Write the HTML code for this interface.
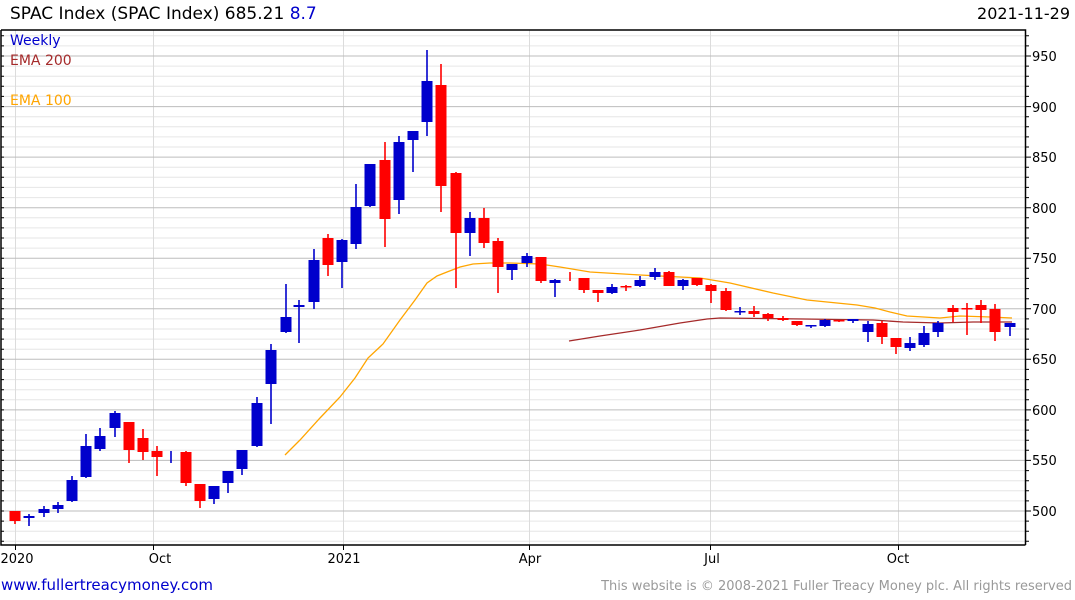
<!DOCTYPE html>
<html><head><meta charset="utf-8"><style>
html,body{margin:0;padding:0;background:#fff;width:1075px;height:600px;overflow:hidden}
svg{display:block;font-family:"DejaVu Sans","Liberation Sans",sans-serif}
</style></head><body>
<svg width="1075" height="600" viewBox="0 0 1075 600" xmlns="http://www.w3.org/2000/svg">
<rect width="1075" height="600" fill="#fff"/>
<!-- minor grid -->
<path stroke="#e6e6e6" stroke-width="1" fill="none" d="M2 541.3H1025M2 531.2H1025M2 521.1H1025M2 500.9H1025M2 490.8H1025M2 480.7H1025M2 470.6H1025M2 450.3H1025M2 440.2H1025M2 430.1H1025M2 420H1025M2 399.8H1025M2 389.7H1025M2 379.6H1025M2 369.4H1025M2 349.2H1025M2 339.1H1025M2 329H1025M2 318.9H1025M2 298.7H1025M2 288.6H1025M2 278.4H1025M2 268.3H1025M2 248.1H1025M2 238H1025M2 227.9H1025M2 217.8H1025M2 197.6H1025M2 187.4H1025M2 177.3H1025M2 167.2H1025M2 147H1025M2 136.9H1025M2 126.8H1025M2 116.7H1025M2 96.4H1025M2 86.3H1025M2 76.2H1025M2 66.1H1025M2 45.9H1025M2 35.8H1025"/>
<!-- vertical grid -->
<path stroke="#dcdcdc" stroke-width="1" fill="none" d="M15.5 30V545M153.5 30V545M343.5 30V545M529.5 30V545M710.5 30V545M898.5 30V545"/>
<!-- major grid -->
<path stroke="#bdbdbd" stroke-width="1" fill="none" d="M2 511H1025M2 460.4H1025M2 409.9H1025M2 359.3H1025M2 308.8H1025M2 258.2H1025M2 207.7H1025M2 157.1H1025M2 106.6H1025M2 56H1025"/>
<!-- axes -->
<path stroke="#000" stroke-width="1.5" fill="none" d="M1 30H1025.5V545M1 30V545H1025.5"/>
<path stroke="#000" stroke-width="1" fill="none" d="M1025 541.3h4M1025 531.2h4M1025 521.1h4M1025 511h6M1025 500.9h4M1025 490.8h4M1025 480.7h4M1025 470.6h4M1025 460.4h6M1025 450.3h4M1025 440.2h4M1025 430.1h4M1025 420h4M1025 409.9h6M1025 399.8h4M1025 389.7h4M1025 379.6h4M1025 369.4h4M1025 359.3h6M1025 349.2h4M1025 339.1h4M1025 329h4M1025 318.9h4M1025 308.8h6M1025 298.7h4M1025 288.6h4M1025 278.4h4M1025 268.3h4M1025 258.2h6M1025 248.1h4M1025 238h4M1025 227.9h4M1025 217.8h4M1025 207.7h6M1025 197.6h4M1025 187.4h4M1025 177.3h4M1025 167.2h4M1025 157.1h6M1025 147h4M1025 136.9h4M1025 126.8h4M1025 116.7h4M1025 106.6h6M1025 96.4h4M1025 86.3h4M1025 76.2h4M1025 66.1h4M1025 56h6M1025 45.9h4M1025 35.8h4M1 541.3h3M1 531.2h3M1 521.1h3M1 511h3M1 500.9h3M1 490.8h3M1 480.7h3M1 470.6h3M1 460.4h3M1 450.3h3M1 440.2h3M1 430.1h3M1 420h3M1 409.9h3M1 399.8h3M1 389.7h3M1 379.6h3M1 369.4h3M1 359.3h3M1 349.2h3M1 339.1h3M1 329h3M1 318.9h3M1 308.8h3M1 298.7h3M1 288.6h3M1 278.4h3M1 268.3h3M1 258.2h3M1 248.1h3M1 238h3M1 227.9h3M1 217.8h3M1 207.7h3M1 197.6h3M1 187.4h3M1 177.3h3M1 167.2h3M1 157.1h3M1 147h3M1 136.9h3M1 126.8h3M1 116.7h3M1 106.6h3M1 96.4h3M1 86.3h3M1 76.2h3M1 66.1h3M1 56h3M1 45.9h3M1 35.8h3M15.5 545v5M153.5 545v5M343.5 545v5M529.5 545v5M710.5 545v5M898.5 545v5"/>
<g font-size="13" fill="#000">
<text x="1032" y="516">500</text><text x="1032" y="465">550</text><text x="1032" y="415">600</text><text x="1032" y="364">650</text><text x="1032" y="314">700</text><text x="1032" y="263">750</text><text x="1032" y="213">800</text><text x="1032" y="162">850</text><text x="1032" y="112">900</text><text x="1032" y="61">950</text>
</g>
<g font-size="13" fill="#000" text-anchor="middle">
<text x="17" y="563">2020</text><text x="160" y="563">Oct</text><text x="344" y="563">2021</text><text x="530" y="563">Apr</text><text x="712" y="563">Jul</text><text x="898" y="563">Oct</text>
</g>
<!-- EMA lines -->
<polyline fill="none" stroke="#ffa500" stroke-width="1.3" points="285,455 300,440 320,418 340,397 355,378 368,358 383,344 400,320 415,300 427,283 437,276 447,272 460,267 473,264 490,263 510,263 540,264 560,267 590,272 640,275 700,278 730,283 773,293 807,300 857,305 875,308 890,312 907,316 940,318 960,316 990,317 1012,318"/>
<polyline fill="none" stroke="#a52a2a" stroke-width="1.3" points="569,341 600,336 640,330 680,323 707,319 720,318 803,319 873,320 903,322 940,323 973,322 1012,322"/>
<!-- candles -->
<g stroke-width="1.6">
<g fill="#ff0000" stroke="#ff0000">
<line x1="15" y1="511" x2="15" y2="524"/><rect x="9.5" y="511" width="11" height="10" stroke="none"/>
<line x1="129" y1="422" x2="129" y2="463"/><rect x="123.5" y="422" width="11" height="28" stroke="none"/>
<line x1="143" y1="429" x2="143" y2="460"/><rect x="137.5" y="438" width="11" height="14" stroke="none"/>
<line x1="157" y1="446" x2="157" y2="476"/><rect x="151.5" y="451" width="11" height="6" stroke="none"/>
<line x1="186" y1="451" x2="186" y2="486"/><rect x="180.5" y="452" width="11" height="31" stroke="none"/>
<line x1="200" y1="484" x2="200" y2="508"/><rect x="194.5" y="484" width="11" height="17" stroke="none"/>
<line x1="328" y1="234" x2="328" y2="276"/><rect x="322.5" y="238" width="11" height="27" stroke="none"/>
<line x1="385" y1="142" x2="385" y2="247"/><rect x="379.5" y="160" width="11" height="59" stroke="none"/>
<line x1="441" y1="64" x2="441" y2="212"/><rect x="435.5" y="85" width="11" height="101" stroke="none"/>
<line x1="456" y1="172" x2="456" y2="288"/><rect x="450.5" y="173" width="11" height="60" stroke="none"/>
<line x1="484" y1="208" x2="484" y2="248"/><rect x="478.5" y="218" width="11" height="25" stroke="none"/>
<line x1="498" y1="238" x2="498" y2="293"/><rect x="492.5" y="241" width="11" height="26" stroke="none"/>
<line x1="541" y1="257" x2="541" y2="283"/><rect x="535.5" y="257" width="11" height="24" stroke="none"/>
<line x1="570" y1="272" x2="570" y2="281"/>
<line x1="584" y1="278" x2="584" y2="293"/><rect x="578.5" y="278" width="11" height="12" stroke="none"/>
<line x1="598" y1="290" x2="598" y2="302"/><rect x="592.5" y="290" width="11" height="3" stroke="none"/>
<line x1="626" y1="285" x2="626" y2="291"/><rect x="620.5" y="286" width="11" height="1.5" stroke="none"/>
<line x1="669" y1="271" x2="669" y2="286"/><rect x="663.5" y="272" width="11" height="14" stroke="none"/>
<line x1="697" y1="278" x2="697" y2="286"/><rect x="691.5" y="278" width="11" height="7" stroke="none"/>
<line x1="711" y1="284" x2="711" y2="303"/><rect x="705.5" y="285" width="11" height="6" stroke="none"/>
<line x1="726" y1="288" x2="726" y2="311"/><rect x="720.5" y="291" width="11" height="19" stroke="none"/>
<line x1="754" y1="306" x2="754" y2="317"/><rect x="748.5" y="311" width="11" height="3" stroke="none"/>
<line x1="768" y1="313" x2="768" y2="321"/><rect x="762.5" y="314" width="11" height="4" stroke="none"/>
<line x1="783" y1="316" x2="783" y2="321"/><rect x="777.5" y="318" width="11" height="2" stroke="none"/>
<line x1="797" y1="321" x2="797" y2="326"/><rect x="791.5" y="321" width="11" height="4" stroke="none"/>
<line x1="839" y1="320" x2="839" y2="322"/><rect x="833.5" y="320" width="11" height="1.5" stroke="none"/>
<line x1="882" y1="321" x2="882" y2="344"/><rect x="876.5" y="323" width="11" height="14" stroke="none"/>
<line x1="896" y1="338" x2="896" y2="354"/><rect x="890.5" y="338" width="11" height="9" stroke="none"/>
<line x1="953" y1="305" x2="953" y2="322"/><rect x="947.5" y="308" width="11" height="4" stroke="none"/>
<line x1="967" y1="303" x2="967" y2="335"/><rect x="961.5" y="308" width="11" height="1.5" stroke="none"/>
<line x1="981" y1="300" x2="981" y2="323"/><rect x="975.5" y="305" width="11" height="5" stroke="none"/>
<line x1="995" y1="304" x2="995" y2="341"/><rect x="989.5" y="309" width="11" height="23" stroke="none"/>
</g>
<g fill="#0000cc" stroke="#0000cc">
<line x1="29" y1="514" x2="29" y2="526"/><rect x="23.5" y="516" width="11" height="2" stroke="none"/>
<line x1="44" y1="506" x2="44" y2="517"/><rect x="38.5" y="509" width="11" height="4" stroke="none"/>
<line x1="58" y1="502" x2="58" y2="513"/><rect x="52.5" y="505" width="11" height="4" stroke="none"/>
<line x1="72" y1="476" x2="72" y2="502"/><rect x="66.5" y="480" width="11" height="21" stroke="none"/>
<line x1="86" y1="434" x2="86" y2="478"/><rect x="80.5" y="446" width="11" height="31" stroke="none"/>
<line x1="100" y1="428" x2="100" y2="451"/><rect x="94.5" y="436" width="11" height="13" stroke="none"/>
<line x1="115" y1="411" x2="115" y2="437"/><rect x="109.5" y="413" width="11" height="15" stroke="none"/>
<line x1="171" y1="451" x2="171" y2="463"/>
<line x1="214" y1="486" x2="214" y2="504"/><rect x="208.5" y="486" width="11" height="13" stroke="none"/>
<line x1="228" y1="471" x2="228" y2="493"/><rect x="222.5" y="471" width="11" height="12" stroke="none"/>
<line x1="242" y1="450" x2="242" y2="475"/><rect x="236.5" y="450" width="11" height="19" stroke="none"/>
<line x1="257" y1="397" x2="257" y2="447"/><rect x="251.5" y="403" width="11" height="43" stroke="none"/>
<line x1="271" y1="344" x2="271" y2="424"/><rect x="265.5" y="350" width="11" height="34" stroke="none"/>
<line x1="286" y1="284" x2="286" y2="333"/><rect x="280.5" y="317" width="11" height="15" stroke="none"/>
<line x1="299" y1="300" x2="299" y2="343"/><rect x="293.5" y="305" width="11" height="2" stroke="none"/>
<line x1="314" y1="249" x2="314" y2="309"/><rect x="308.5" y="260" width="11" height="42" stroke="none"/>
<line x1="342" y1="239" x2="342" y2="288"/><rect x="336.5" y="240" width="11" height="22" stroke="none"/>
<line x1="356" y1="184" x2="356" y2="249"/><rect x="350.5" y="207" width="11" height="37" stroke="none"/>
<line x1="370" y1="164" x2="370" y2="207"/><rect x="364.5" y="164" width="11" height="42" stroke="none"/>
<line x1="399" y1="136" x2="399" y2="214"/><rect x="393.5" y="142" width="11" height="58" stroke="none"/>
<line x1="413" y1="131" x2="413" y2="172"/><rect x="407.5" y="131" width="11" height="9" stroke="none"/>
<line x1="427" y1="50" x2="427" y2="136"/><rect x="421.5" y="81" width="11" height="41" stroke="none"/>
<line x1="470" y1="212" x2="470" y2="256"/><rect x="464.5" y="218" width="11" height="15" stroke="none"/>
<line x1="512" y1="264" x2="512" y2="280"/><rect x="506.5" y="264" width="11" height="6" stroke="none"/>
<line x1="527" y1="253" x2="527" y2="267"/><rect x="521.5" y="256" width="11" height="7" stroke="none"/>
<line x1="555" y1="279" x2="555" y2="297"/><rect x="549.5" y="280" width="11" height="3" stroke="none"/>
<line x1="612" y1="284" x2="612" y2="294"/><rect x="606.5" y="287" width="11" height="6" stroke="none"/>
<line x1="640" y1="276" x2="640" y2="287"/><rect x="634.5" y="280" width="11" height="6" stroke="none"/>
<line x1="655" y1="268" x2="655" y2="280"/><rect x="649.5" y="272" width="11" height="5" stroke="none"/>
<line x1="683" y1="279" x2="683" y2="290"/><rect x="677.5" y="280" width="11" height="6" stroke="none"/>
<line x1="740" y1="307" x2="740" y2="315"/><rect x="734.5" y="311" width="11" height="1.5" stroke="none"/>
<line x1="811" y1="325" x2="811" y2="328"/><rect x="805.5" y="325" width="11" height="1.5" stroke="none"/>
<line x1="825" y1="319" x2="825" y2="327"/><rect x="819.5" y="320" width="11" height="6" stroke="none"/>
<line x1="853" y1="319" x2="853" y2="323"/><rect x="847.5" y="319" width="11" height="2" stroke="none"/>
<line x1="868" y1="321" x2="868" y2="342"/><rect x="862.5" y="324" width="11" height="8" stroke="none"/>
<line x1="910" y1="337" x2="910" y2="351"/><rect x="904.5" y="343" width="11" height="5" stroke="none"/>
<line x1="924" y1="326" x2="924" y2="347"/><rect x="918.5" y="333" width="11" height="12" stroke="none"/>
<line x1="938" y1="321" x2="938" y2="337"/><rect x="932.5" y="323" width="11" height="9" stroke="none"/>
<line x1="1010" y1="323" x2="1010" y2="336"/><rect x="1004.5" y="323" width="11" height="4" stroke="none"/>
</g>
</g>
<!-- legend -->
<g font-size="14">
<text x="10" y="45" fill="#0000cc">Weekly</text>
<text x="10" y="65" fill="#a52a2a">EMA 200</text>
<text x="10" y="105" fill="#ffa500">EMA 100</text>
</g>
<!-- header -->
<text x="10" y="19" font-size="17" fill="#000">SPAC Index (SPAC Index) 685.21 <tspan fill="#0000cc">8.7</tspan></text>
<text x="1070" y="19" font-size="16" fill="#000" text-anchor="end">2021-11-29</text>
<!-- footer -->
<text x="1" y="590" font-size="15" fill="#0000cc">www.fullertreacymoney.com</text>
<text x="1072" y="590" font-size="13" fill="#999" text-anchor="end">This website is © 2008-2021 Fuller Treacy Money plc. All rights reserved</text>
</svg>
</body></html>
